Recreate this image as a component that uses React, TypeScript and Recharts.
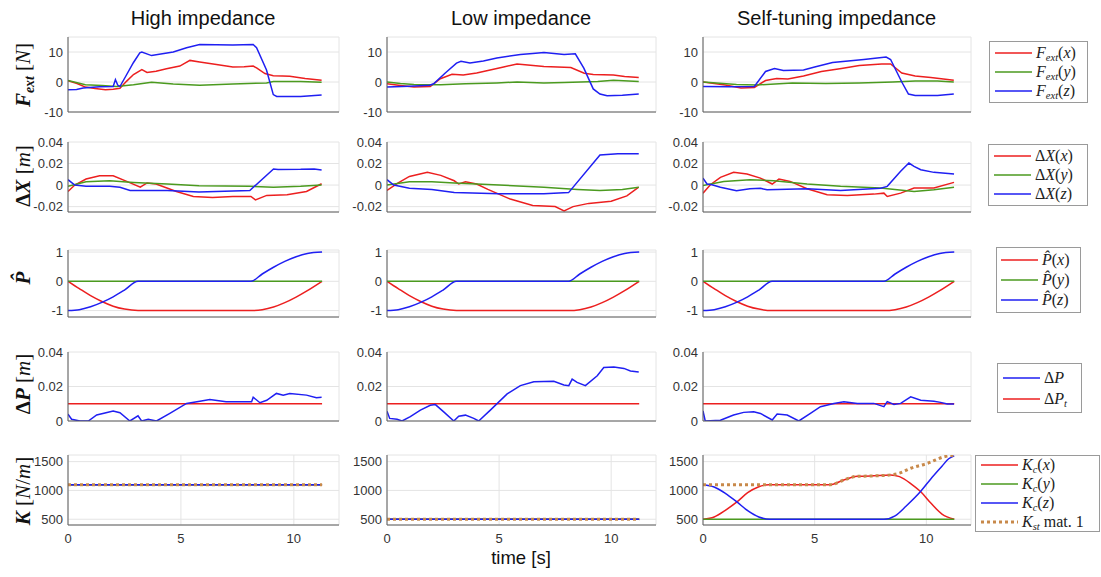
import React from "react"
import { LineChart, Line, XAxis, YAxis, CartesianGrid } from "recharts"

type Pt = [number, number]

const RED = "#ec1f1f"
const GREEN = "#4b9a1f"
const BLUE = "#1f1ff2"
const BROWN = "#c8894a"
const AXIS = "#5c5c5c"
const GRID = "#e4e4e4"
const SANS = "'Liberation Sans', Arial, Helvetica, sans-serif"
const SERIF = "'Liberation Serif', 'Times New Roman', serif"

const columnTitles = ["High impedance", "Low impedance", "Self-tuning impedance"]
const xTicksInner = [0, 2, 4, 6, 8, 10, 12]
const xTicksBottom = [0, 5, 10]

// external force [N]
const highFx: Pt[] = [[0, 0.4], [0.4, -0.5], [0.77, -1.7], [1.2, -2.2], [1.66, -2.6], [2.0, -2.4], [2.3, -2.1], [2.6, 0.3], [2.9, 2.5], [3.27, 4.1], [3.5, 3.2], [3.9, 3.6], [4.36, 4.4], [4.95, 5.3], [5.4, 7.2], [5.83, 6.7], [6.5, 5.9], [7.3, 5.0], [7.8, 5.1], [8.2, 5.3], [8.35, 4.7], [8.72, 2.8], [9.09, 2.1], [9.5, 2.0], [9.82, 1.9], [10.5, 1.2], [11.23, 0.6]]
const highFy: Pt[] = [[0, 0.5], [0.77, -0.9], [1.5, -1.2], [2.15, -1.5], [2.9, -0.9], [3.7, -0.1], [4.66, -0.7], [5.83, -1.1], [7.3, -0.7], [8.79, -0.3], [9.09, 0.2], [10.3, 0.2], [11.23, -0.1]]
const highFz: Pt[] = [[0, -2.6], [0.38, -2.5], [0.67, -2.0], [1.4, -1.6], [2.0, -1.5], [2.1, 0.8], [2.2, -1.0], [2.3, -1.5], [2.6, 2.5], [2.9, 6.5], [3.18, 9.7], [3.27, 10], [3.7, 8.8], [4.66, 10], [5.25, 11.4], [5.83, 12.5], [7.3, 12.3], [8.2, 12.5], [8.35, 11.4], [8.79, 4.0], [9.09, -4.2], [9.24, -4.8], [10.3, -4.8], [11.23, -4.3]]

const lowFx: Pt[] = [[0, -0.6], [0.6, -1.2], [1.2, -1.7], [1.93, -1.5], [2.38, 1.1], [2.9, 2.6], [3.4, 2.3], [4.0, 3.0], [4.6, 4.0], [5.2, 5.0], [5.8, 6.0], [6.4, 5.6], [7.0, 5.2], [8.2, 4.8], [8.8, 2.9], [9.2, 2.5], [10.1, 2.3], [10.6, 1.8], [11.23, 1.5]]
const lowFy: Pt[] = [[0, 0], [0.6, -0.5], [1.2, -0.8], [2.4, -0.9], [3.5, -0.6], [4.9, -0.3], [5.8, 0], [7.0, -0.3], [7.9, -0.2], [9.4, 0.2], [10.1, 0.6], [11.23, 0.2]]
const lowFz: Pt[] = [[0, -1.7], [1.0, -1.4], [1.9, -1.1], [2.08, -0.6], [2.6, 3.0], [3.1, 6.3], [3.3, 6.9], [3.7, 6.3], [4.3, 7.0], [4.9, 8.0], [5.95, 9.2], [6.5, 9.5], [7.0, 9.8], [7.9, 9.2], [8.4, 9.4], [8.78, 4.6], [9.2, -2.3], [9.5, -4.0], [9.82, -4.6], [10.5, -4.4], [11.23, -4.0]]

const selfFx: Pt[] = [[0, 0], [1.0, -1.0], [1.7, -2.0], [2.3, -1.8], [2.8, 0.5], [3.3, 1.2], [3.8, 1.0], [4.5, 2.0], [5.3, 3.5], [6.2, 4.5], [7.0, 5.5], [8.0, 6.0], [8.4, 6.0], [8.9, 3.0], [9.5, 2.0], [10.2, 1.5], [11.23, 0.6]]
const selfFy: Pt[] = [[0, 0], [1.5, -0.8], [2.4, -1.0], [4.0, -0.3], [5.5, -0.5], [7.0, -0.3], [8.5, 0], [9.5, 0.3], [10.5, 0.3], [11.23, 0]]
const selfFz: Pt[] = [[0, -1.5], [1.2, -1.6], [2.3, -1.5], [2.8, 3.5], [3.2, 4.5], [3.6, 3.8], [4.5, 4.0], [5.0, 5.0], [5.8, 6.5], [6.5, 7.0], [7.2, 7.5], [7.8, 8.0], [8.2, 8.3], [8.4, 7.5], [8.9, 0], [9.2, -4.0], [9.5, -4.5], [10.5, -4.5], [11.23, -4.0]]

// displacement ΔX [m]
const highDx: Pt[] = [[0, -0.006], [0.3, 0], [0.8, 0.0056], [1.4, 0.0087], [2.0, 0.0087], [2.6, 0.0034], [3.2, -0.002], [3.5, 0.002], [3.9, 0.001], [4.8, -0.006], [5.55, -0.0106], [6.4, -0.0115], [7.3, -0.0106], [8.1, -0.0106], [8.3, -0.0137], [8.8, -0.0096], [9.7, -0.009], [10.56, -0.006], [11.23, 0.0012]]
const highDy: Pt[] = [[0, -0.001], [0.8, 0.003], [1.85, 0.004], [2.9, 0.0025], [4.4, 0.001], [5.8, -0.0006], [8.05, -0.0012], [9.1, -0.002], [10.3, -0.0012], [11.23, 0]]
const highDz: Pt[] = [[0, 0.005], [0.3, 0], [0.8, -0.001], [1.85, -0.001], [2.3, -0.002], [2.75, -0.005], [4.4, -0.005], [5.8, -0.0065], [8.05, -0.005], [9.1, 0.015], [9.3, 0.0145], [10.3, 0.0146], [10.9, 0.015], [11.23, 0.014]]

const lowDx: Pt[] = [[0, -0.005], [0.5, 0.002], [1.0, 0.008], [1.8, 0.012], [2.4, 0.009], [3.0, 0.004], [3.2, 0.001], [3.5, 0.003], [4.0, 0.001], [4.5, -0.004], [5.5, -0.013], [6.5, -0.019], [7.5, -0.02], [7.9, -0.024], [8.3, -0.02], [9.0, -0.017], [10.0, -0.015], [10.7, -0.01], [11.23, -0.002]]
const lowDy: Pt[] = [[0, 0], [1.0, 0.003], [2.0, 0.003], [3.0, 0.002], [5.0, 0], [7.0, -0.002], [8.5, -0.004], [9.5, -0.005], [10.5, -0.004], [11.23, -0.002]]
const lowDz: Pt[] = [[0, 0.005], [0.3, 0], [1.0, -0.003], [2.0, -0.004], [3.0, -0.007], [5.0, -0.008], [7.0, -0.008], [8.1, -0.007], [9.5, 0.028], [10.3, 0.029], [11.23, 0.029]]

const selfDx: Pt[] = [[0, -0.0075], [0.33, 0.0003], [0.78, 0.0072], [1.37, 0.0118], [1.97, 0.0103], [2.57, 0.0065], [3.1, 0.001], [3.4, 0.0056], [3.9, 0.0034], [4.66, -0.0034], [5.56, -0.009], [6.46, -0.0096], [7.65, -0.0084], [8.1, -0.0075], [8.25, -0.0106], [8.85, -0.0075], [9.45, -0.0028], [10.34, -0.0028], [11.24, 0.0025]]
const selfDy: Pt[] = [[0, -0.0003], [0.93, 0.0034], [2.1, 0.005], [3.17, 0.004], [4.66, 0.001], [6.16, -0.0012], [7.95, -0.0028], [9.45, -0.006], [10.34, -0.0044], [11.24, -0.002]]
const selfDz: Pt[] = [[0, 0.0065], [0.18, 0.001], [0.4, 0.0003], [0.78, -0.002], [1.5, -0.0053], [2.1, -0.0034], [2.57, -0.003], [2.87, -0.0044], [4.66, -0.0034], [6.16, -0.005], [7.95, -0.003], [8.25, -0.0012], [8.85, 0.0128], [9.22, 0.0205], [9.45, 0.0174], [9.75, 0.0143], [10.34, 0.0118], [11.24, 0.0103]]

// planned direction P-hat (same in all three runs)
const pHatX: Pt[] = [[0, 0], [0.5, -0.25], [1, -0.49], [1.5, -0.69], [2, -0.85], [2.5, -0.95], [3.1, -1], [8.1, -1], [8.6, -0.97], [9.1, -0.88], [9.6, -0.73], [10.1, -0.54], [10.6, -0.32], [11.25, 0]]
const pHatY: Pt[] = [[0, 0], [11.25, 0]]
const pHatZ: Pt[] = [[0, -1], [0.5, -0.97], [1, -0.87], [1.5, -0.72], [2, -0.53], [2.5, -0.3], [3.1, 0], [8.1, 0], [8.6, 0.25], [9.1, 0.48], [9.6, 0.68], [10.1, 0.84], [10.6, 0.95], [11.25, 1]]

// ΔP [m] and its threshold
const highDp: Pt[] = [[0, 0.004], [0.16, 0.001], [0.53, 0], [0.9, 0], [1.27, 0.0035], [2.0, 0.0058], [2.3, 0.0048], [2.74, 0], [3.1, 0.003], [3.26, 0], [3.55, 0.001], [3.92, 0], [4.51, 0.0044], [5.25, 0.0102], [5.84, 0.0115], [6.28, 0.0125], [7.0, 0.0112], [7.9, 0.0112], [8.13, 0.0112], [8.2, 0.0138], [8.5, 0.0106], [8.8, 0.012], [9.23, 0.016], [9.53, 0.015], [9.82, 0.016], [10.56, 0.015], [11.0, 0.0135], [11.23, 0.0137]]
const lowDp: Pt[] = [[0, 0.0057], [0.12, 0.0015], [0.45, 0.001], [0.67, 0], [1.04, 0.0025], [1.49, 0.0063], [1.93, 0.0091], [2.16, 0.0095], [2.53, 0.0053], [2.98, 0], [3.2, 0.0028], [3.5, 0.0034], [3.87, 0.0015], [4.09, 0], [4.61, 0.0063], [5.36, 0.0157], [5.95, 0.0205], [6.55, 0.0227], [7.44, 0.023], [7.89, 0.0209], [8.11, 0.0205], [8.26, 0.0243], [8.48, 0.0224], [8.85, 0.0205], [9.38, 0.0262], [9.67, 0.031], [10.12, 0.0313], [10.57, 0.0305], [10.86, 0.029], [11.23, 0.0284]]
const selfDp: Pt[] = [[0, 0.0058], [0.1, 0], [0.78, 0.0004], [1.37, 0.0035], [1.82, 0.005], [2.27, 0.0054], [2.57, 0.0044], [3.1, 0.0006], [3.32, 0.004], [3.77, 0.0035], [4.29, 0], [4.81, 0.0044], [5.26, 0.0083], [5.86, 0.0102], [6.31, 0.0112], [6.91, 0.0102], [7.65, 0.0102], [8.1, 0.0083], [8.25, 0.0112], [8.55, 0.0096], [8.85, 0.0102], [9.3, 0.014], [9.75, 0.012], [10.34, 0.0115], [10.64, 0.0108], [10.94, 0.0098], [11.24, 0.0098]]
const dpThreshold: Pt[] = [[0, 0.01], [11.25, 0.01]]

// stiffness K [N/m]
const highK: Pt[] = [[0, 1100], [11.25, 1100]]
const lowK: Pt[] = [[0, 500], [11.25, 500]]
const selfKx: Pt[] = [[0, 500], [0.5, 540], [1, 655], [1.52, 800], [2, 960], [2.5, 1065], [2.95, 1100], [5.7, 1100], [6.3, 1180], [6.9, 1245], [7.5, 1250], [8.4, 1270], [8.8, 1240], [9.3, 1120], [9.74, 980], [10.2, 780], [10.7, 590], [11.25, 500]]
const selfKy: Pt[] = [[0, 500], [11.25, 500]]
const selfKz: Pt[] = [[0, 1100], [0.5, 1060], [1, 950], [1.52, 800], [2, 650], [2.5, 540], [3.0, 500], [8.1, 500], [8.6, 560], [9.1, 730], [9.74, 980], [10.2, 1200], [10.7, 1420], [11.0, 1550], [11.25, 1600]]
const selfKst: Pt[] = [[0, 1100], [5.7, 1100], [6.3, 1180], [6.9, 1245], [7.5, 1250], [8.4, 1270], [8.8, 1300], [9.3, 1385], [10.05, 1470], [10.8, 1585], [11.25, 1610]]

interface Series {
  pts: Pt[]
  color: string
  dotted?: boolean
}

type Curve = "linear" | "monotone"

interface RowSpec {
  top: number
  h: number
  domain: [number, number]
  ticks: number[]
  curve: Curve
  cols: Series[][]
}

const colX = [67.5, 386.5, 702.5]
const colW = [271, 269, 268]

const xyz = (x: Pt[], y: Pt[], z: Pt[]): Series[] => [
  { pts: x, color: RED },
  { pts: y, color: GREEN },
  { pts: z, color: BLUE },
]

const stiff = (x: Pt[], y: Pt[], z: Pt[], st: Pt[]): Series[] => [
  ...xyz(x, y, z),
  { pts: st, color: BROWN, dotted: true },
]

const rows: RowSpec[] = [
  { top: 37, h: 75, domain: [-10, 15], ticks: [-10, 0, 10], curve: "linear",
    cols: [xyz(highFx, highFy, highFz), xyz(lowFx, lowFy, lowFz), xyz(selfFx, selfFy, selfFz)] },
  { top: 142, h: 70, domain: [-0.025, 0.04], ticks: [-0.02, 0, 0.02, 0.04], curve: "linear",
    cols: [xyz(highDx, highDy, highDz), xyz(lowDx, lowDy, lowDz), xyz(selfDx, selfDy, selfDz)] },
  { top: 250, h: 67, domain: [-1.22, 1.07], ticks: [-1, 0, 1], curve: "monotone",
    cols: [xyz(pHatX, pHatY, pHatZ), xyz(pHatX, pHatY, pHatZ), xyz(pHatX, pHatY, pHatZ)] },
  { top: 352, h: 69, domain: [0, 0.04], ticks: [0, 0.02, 0.04], curve: "linear",
    cols: [
      [{ pts: dpThreshold, color: RED }, { pts: highDp, color: BLUE }],
      [{ pts: dpThreshold, color: RED }, { pts: lowDp, color: BLUE }],
      [{ pts: dpThreshold, color: RED }, { pts: selfDp, color: BLUE }],
    ] },
  { top: 455, h: 70, domain: [400, 1615], ticks: [500, 1000, 1500], curve: "monotone",
    cols: [stiff(highK, highK, highK, highK), stiff(lowK, lowK, lowK, lowK), stiff(selfKx, selfKy, selfKz, selfKst)] },
]

const tickStyle = { fontSize: 13, fill: "#333", fontFamily: SANS }

function Panel({ x, w, row, series, bottom }: { x: number; w: number; row: RowSpec; series: Series[]; bottom: boolean }) {
  const axisW = 60
  const padTop = 8
  const xAxisH = bottom ? 26 : 8
  return (
    <div style={{ position: "absolute", left: x - axisW, top: row.top - padTop }}>
      <LineChart width={w + axisW + 4} height={row.h + padTop + xAxisH} margin={{ top: padTop, right: 4, left: 0, bottom: 0 }}>
        <CartesianGrid stroke={GRID} strokeWidth={1} />
        <XAxis
          type="number"
          dataKey="t"
          domain={[0, 12]}
          ticks={bottom ? xTicksBottom : xTicksInner}
          interval={0}
          allowDataOverflow
          height={xAxisH}
          stroke={AXIS}
          tickLine={false}
          tickSize={0}
          tickMargin={9}
          tick={bottom ? tickStyle : false}
        />
        <YAxis
          type="number"
          domain={row.domain}
          ticks={row.ticks}
          interval={0}
          allowDataOverflow
          width={axisW}
          stroke={AXIS}
          tickLine={false}
          tickSize={0}
          tickMargin={5}
          tick={tickStyle}
        />
        {series.map((s, i) => (
          <Line
            key={i}
            data={s.pts.map(([t, v]) => ({ t, v }))}
            dataKey="v"
            type={row.curve}
            stroke={s.color}
            strokeWidth={s.dotted ? 3 : 1.5}
            strokeDasharray={s.dotted ? "3 3" : undefined}
            dot={false}
            activeDot={false}
            isAnimationActive={false}
          />
        ))}
      </LineChart>
    </div>
  )
}

const sub: React.CSSProperties = { fontSize: "0.66em", verticalAlign: "-0.3em", lineHeight: 0 }

function AxisLabel({ cy, children }: { cy: number; children: React.ReactNode }) {
  return (
    <div
      style={{
        position: "absolute",
        left: 23,
        top: cy,
        transform: "translate(-50%, -50%) rotate(-90deg)",
        whiteSpace: "nowrap",
        fontFamily: SERIF,
        fontSize: 21,
        lineHeight: 1,
        color: "#111",
      }}
    >
      {children}
    </div>
  )
}

interface LegendItem {
  color: string
  label: React.ReactNode
  dotted?: boolean
}

function LegendBox({ left, top, width, height, padLeft, rowH, items }: {
  left: number; top: number; width: number; height: number; padLeft: number; rowH: number; items: LegendItem[]
}) {
  return (
    <div
      style={{
        position: "absolute",
        left,
        top,
        width,
        height,
        boxSizing: "border-box",
        border: "1px solid #9a9a9a",
        background: "#fff",
        display: "flex",
        flexDirection: "column",
        justifyContent: "center",
        fontFamily: SERIF,
        fontSize: 16,
        color: "#222",
      }}
    >
      {items.map((it, i) => (
        <div key={i} style={{ display: "flex", alignItems: "center", height: rowH, paddingLeft: padLeft, whiteSpace: "nowrap" }}>
          <svg width={37} height={6} style={{ marginRight: 4, flex: "none" }}>
            <line
              x1={0}
              y1={3}
              x2={37}
              y2={3}
              stroke={it.color}
              strokeWidth={it.dotted ? 3 : 1.5}
              strokeDasharray={it.dotted ? "3 3" : undefined}
            />
          </svg>
          <span>{it.label}</span>
        </div>
      ))}
    </div>
  )
}

const I = ({ children }: { children: React.ReactNode }) => <i>{children}</i>

export default function App() {
  return (
    <div style={{ position: "absolute", left: 0, top: 0, width: 1101, height: 577, background: "#fff", overflow: "hidden" }}>
      {columnTitles.map((title, c) => (
        <div
          key={title}
          style={{
            position: "absolute",
            left: colX[c] + colW[c] / 2,
            top: 6,
            transform: "translateX(-50%)",
            fontFamily: SANS,
            fontSize: 20,
            lineHeight: "24px",
            color: "#111",
            whiteSpace: "nowrap",
          }}
        >
          {title}
        </div>
      ))}

      {rows.map((row, r) =>
        row.cols.map((series, c) => (
          <Panel key={`${r}-${c}`} x={colX[c]} w={colW[c]} row={row} series={series} bottom={r === rows.length - 1} />
        ))
      )}

      <AxisLabel cy={75}>
        <b><I>F</I><i style={sub}>ext</i></b> [<I>N</I>]
      </AxisLabel>
      <AxisLabel cy={176}>
        <b>Δ<I>X</I></b> [<I>m</I>]
      </AxisLabel>
      <AxisLabel cy={278}>
        <b><I>P̂</I></b>
      </AxisLabel>
      <AxisLabel cy={384}>
        <b>Δ<I>P</I></b> [<I>m</I>]
      </AxisLabel>
      <AxisLabel cy={491}>
        <b><I>K</I></b> [<I>N</I>/<I>m</I>]
      </AxisLabel>

      <div
        style={{
          position: "absolute",
          left: colX[1] + colW[1] / 2,
          top: 546,
          transform: "translateX(-50%)",
          fontFamily: SANS,
          fontSize: 18.5,
          lineHeight: "24px",
          color: "#111",
          whiteSpace: "nowrap",
        }}
      >
        time [s]
      </div>

      <LegendBox
        left={989} top={41} width={99} height={62} padLeft={5} rowH={19}
        items={[
          { color: RED, label: <><I>F</I><i style={sub}>ext</i>(<I>x</I>)</> },
          { color: GREEN, label: <><I>F</I><i style={sub}>ext</i>(<I>y</I>)</> },
          { color: BLUE, label: <><I>F</I><i style={sub}>ext</i>(<I>z</I>)</> },
        ]}
      />
      <LegendBox
        left={988} top={144} width={100} height={62} padLeft={5} rowH={19}
        items={[
          { color: RED, label: <>Δ<I>X</I>(<I>x</I>)</> },
          { color: GREEN, label: <>Δ<I>X</I>(<I>y</I>)</> },
          { color: BLUE, label: <>Δ<I>X</I>(<I>z</I>)</> },
        ]}
      />
      <LegendBox
        left={996} top={247} width={85} height={66} padLeft={4} rowH={20}
        items={[
          { color: RED, label: <><I>P̂</I>(<I>x</I>)</> },
          { color: GREEN, label: <><I>P̂</I>(<I>y</I>)</> },
          { color: BLUE, label: <><I>P̂</I>(<I>z</I>)</> },
        ]}
      />
      <LegendBox
        left={997} top={363} width={85} height={50} padLeft={5} rowH={21}
        items={[
          { color: BLUE, label: <>Δ<I>P</I></> },
          { color: RED, label: <>Δ<I>P</I><i style={sub}>t</i></> },
        ]}
      />
      <LegendBox
        left={975} top={455} width={125} height={77} padLeft={5} rowH={19.5}
        items={[
          { color: RED, label: <><I>K</I><i style={sub}>c</i>(<I>x</I>)</> },
          { color: GREEN, label: <><I>K</I><i style={sub}>c</i>(<I>y</I>)</> },
          { color: BLUE, label: <><I>K</I><i style={sub}>c</i>(<I>z</I>)</> },
          { color: BROWN, dotted: true, label: <><I>K</I><i style={sub}>st</i> mat. 1</> },
        ]}
      />
    </div>
  )
}
